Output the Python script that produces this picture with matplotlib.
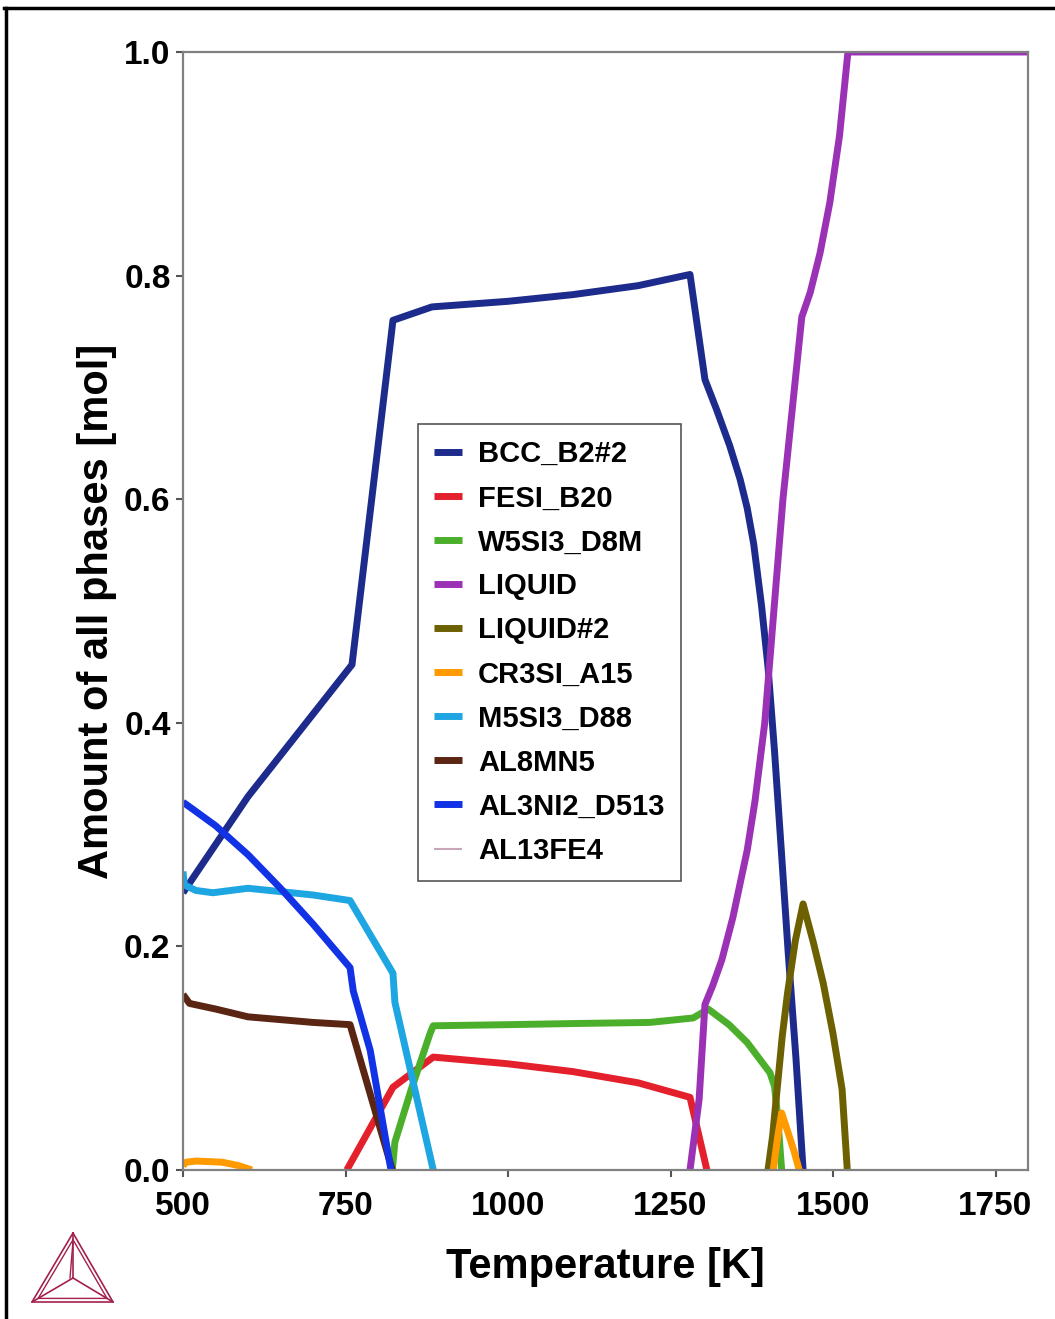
import numpy as np
import matplotlib
matplotlib.use("Agg")
import matplotlib.pyplot as plt
from matplotlib.lines import Line2D

plt.rcParams['font.family'] = ['Liberation Sans', 'DejaVu Sans']
plt.rcParams['font.weight'] = 'bold'

# phase amounts (temperature in K, amount in mol)
bcc_t = [500, 600, 760, 820, 823, 883, 1000, 1100, 1200, 1280, 1303, 1321, 1341, 1357, 1368,
         1378, 1390, 1400, 1410, 1420, 1431, 1443, 1454]
bcc_y = [0.248, 0.334, 0.452, 0.745, 0.760, 0.772, 0.777, 0.783, 0.791, 0.801, 0.707, 0.68, 0.648, 0.618, 0.592,
         0.56, 0.505, 0.45, 0.375, 0.29, 0.195, 0.10, 0.0]

fesi_t = [752, 823, 885, 1000, 1100, 1200, 1280, 1306]
fesi_y = [0.0, 0.074, 0.101, 0.095, 0.088, 0.078, 0.065, 0.0]

w5_t = [822, 826, 850, 880, 885, 1000, 1100, 1218, 1285, 1308, 1340, 1368, 1390, 1403, 1410, 1415, 1421]
w5_y = [0.0, 0.025, 0.07, 0.122, 0.129, 0.130, 0.131, 0.132, 0.136, 0.144, 0.130, 0.114, 0.097, 0.087, 0.075, 0.047, 0.0]

liquid_t = [1280, 1294, 1303, 1315, 1329, 1346, 1368, 1380, 1395, 1409, 1423, 1452, 1465, 1480, 1495, 1510, 1523, 1800]
liquid_y = [0.0, 0.063, 0.148, 0.165, 0.188, 0.226, 0.286, 0.33, 0.40, 0.50, 0.60, 0.763, 0.785, 0.82, 0.865, 0.925, 1.0, 1.0]

liq2_t = [1400, 1407, 1414, 1422, 1430, 1442, 1454, 1470, 1485, 1500, 1514, 1522]
liq2_y = [0.0, 0.03, 0.072, 0.12, 0.158, 0.205, 0.238, 0.203, 0.167, 0.122, 0.072, 0.0]

cr3_t = [500, 505, 520, 560, 585, 606, np.nan, 1408, 1415, 1421, 1430, 1440, 1448]
cr3_y = [0.004, 0.007, 0.008, 0.007, 0.004, 0.0, np.nan, 0.0, 0.03, 0.051, 0.035, 0.017, 0.0]

m5_t = [500, 502, 520, 546, 600, 700, 757, 823, 826, 885]
m5_y = [0.267, 0.255, 0.25, 0.248, 0.252, 0.246, 0.241, 0.176, 0.15, 0.0]

al8_t = [500, 510, 550, 600, 700, 757, 822]
al8_y = [0.157, 0.149, 0.144, 0.137, 0.132, 0.130, 0.0]

al3_t = [500, 512, 550, 600, 650, 700, 757, 762, 788, 805, 820]
al3_y = [0.329, 0.324, 0.308, 0.282, 0.252, 0.22, 0.181, 0.16, 0.107, 0.05, 0.0]

al13_t = []
al13_y = []

phases = ["BCC_B2#2", "FESI_B20", "W5SI3_D8M", "LIQUID", "LIQUID#2",
          "CR3SI_A15", "M5SI3_D88", "AL8MN5", "AL3NI2_D513", "AL13FE4"]
series = [(bcc_t, bcc_y), (fesi_t, fesi_y), (w5_t, w5_y), (liquid_t, liquid_y),
          (liq2_t, liq2_y), (cr3_t, cr3_y), (m5_t, m5_y), (al8_t, al8_y),
          (al3_t, al3_y), (al13_t, al13_y)]
colors = ["#1c2b8c", "#e3202b", "#4caf2c", "#9b32b6", "#6d6000",
          "#ff9a00", "#1ea6e2", "#5b2513", "#1232e6", "#c8a8b8"]

xticks = [500, 750, 1000, 1250, 1500, 1750]
yticks = [0.0, 0.2, 0.4, 0.6, 0.8, 1.0]

fig = plt.figure(figsize=(10.55, 13.19), dpi=100)
ax = fig.add_axes([183/1055, 1 - 1170/1319, 845/1055, 1118/1319])

for name, (t, y), c in zip(phases, series, colors):
    lw = 1.5 if name == "AL13FE4" else 5.0
    ax.plot(t, y, color=c, lw=lw, label=name, solid_capstyle='butt', solid_joinstyle='round')

ax.set_xlim(500, 1800)
ax.set_ylim(0, 1.0)
ax.set_xticks(xticks)
ax.set_yticks(yticks)
ax.set_yticklabels([f"{v:.1f}" for v in yticks])
ax.tick_params(labelsize=24, length=5, width=1.5, color='#555555')
ax.tick_params(axis='x', pad=10)
ax.tick_params(axis='y', pad=4)
for s in ax.spines.values():
    s.set_color('#808080')
    s.set_linewidth(1.6)

ax.set_xlabel("Temperature [K]", fontsize=30, fontweight='bold', labelpad=18)
ax.set_ylabel("Amount of all phases [mol]", fontsize=30, fontweight='bold', labelpad=5)

leg = ax.legend(loc='upper left', bbox_to_anchor=(418/1055, 1 - 424/1319),
                bbox_transform=fig.transFigure, borderaxespad=0, fancybox=False,
                framealpha=1, edgecolor='#555555', fontsize=21, handlelength=0.95,
                labelspacing=0.55, handletextpad=0.55, borderpad=0.56)
leg.get_frame().set_linewidth(1.2)

# outer frame of the picture
fig.add_artist(Line2D([4/1055, 1], [1 - 8/1319, 1 - 8/1319], color='black', lw=2.5))
fig.add_artist(Line2D([6/1055, 6/1055], [0, 1 - 8/1319], color='black', lw=2.5))

# logo
lax = fig.add_axes([20/1055, 1 - 1312/1319, 105/1055, 90/1319])
lax.set_xlim(20, 125)
lax.set_ylim(1312, 1222)
lax.axis('off')
apex, bl, br, cen = (73, 1233), (32, 1302), (113, 1302), (73, 1278)
lc = '#a3204c'
tri = [apex, bl, br, apex]
lax.plot([p[0] for p in tri], [p[1] for p in tri], color=lc, lw=1.2)
inner = [(cen[0] + 0.85 * (p[0] - cen[0]), cen[1] + 0.85 * (p[1] - cen[1])) for p in tri]
lax.plot([p[0] for p in inner], [p[1] for p in inner], color=lc, lw=1.0)
for p in (apex, bl, br):
    lax.plot([cen[0], p[0]], [cen[1], p[1]], color=lc, lw=1.2)
lax.plot([cen[0] - 3, apex[0]], [cen[1], apex[1] + 8], color=lc, lw=1.0)

fig.savefig("out.png", dpi=100)
